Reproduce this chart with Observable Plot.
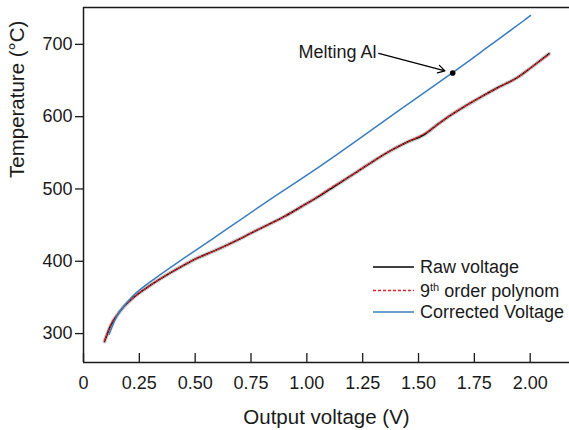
<!DOCTYPE html>
<html>
<head>
<meta charset="utf-8">
<script src="https://cdn.jsdelivr.net/npm/d3@7"></script>
<script src="https://cdn.jsdelivr.net/npm/@observablehq/plot@0.6"></script>
<style>
  html, body { margin: 0; padding: 0; background: #fff; }
  #wrap { position: relative; width: 569px; height: 430px; font-family: "Liberation Sans", Arial, sans-serif; }
  #wrap svg { position: absolute; left: 0; top: 0; }
</style>
</head>
<body>
<div id="wrap"></div>
<script>
// ---- data ----
const rawX = [0.094, 0.12, 0.166, 0.224, 0.30, 0.434, 0.50, 0.583, 0.70, 0.75, 0.90, 1.00, 1.061, 1.10, 1.196, 1.30, 1.375, 1.45, 1.524, 1.58, 1.629, 1.70, 1.778, 1.86, 1.942, 2.00, 2.084];
const rawY = [289, 310, 332, 350, 367, 392, 403, 414, 431, 439, 462, 480, 491, 499, 518, 539, 553, 565, 575, 588, 599, 613, 627, 641, 654, 667, 687];
const polyX = [0.094, 0.12, 0.166, 0.224, 0.30, 0.434, 0.50, 0.583, 0.70, 0.75, 0.90, 1.00, 1.061, 1.10, 1.196, 1.30, 1.375, 1.45, 1.524, 1.58, 1.629, 1.70, 1.778, 1.86, 1.942, 2.00, 2.084];
const polyY = [290, 311, 332, 350, 367, 392, 403, 414, 431, 439, 462, 480, 492, 500, 518, 539, 553, 565, 576, 588, 599, 613, 627, 641, 654, 667, 686];
const corrX = [0.115, 0.14, 0.166, 0.224, 0.30, 0.434, 0.583, 0.80, 1.00, 1.196, 1.40, 1.653, 1.80, 1.972, 1.997];
const corrY = [299, 318, 332, 353, 372, 401, 432, 478, 519, 561, 606, 661, 694, 733, 739];
const seriesNames = ["Raw voltage", "9th order polynom", "Corrected Voltage"];
const seriesColors = ["#000000", "#e0232b", "#3a7dbf"];
const xTicks = [0, 0.25, 0.5, 0.75, 1.0, 1.25, 1.5, 1.75, 2.0];
const xTickLabels = ["0", "0.25", "0.50", "0.75", "1.00", "1.25", "1.50", "1.75", "2.00"];
const yTicks = [300, 400, 500, 600, 700];
const xDomain = [0, 2.176];
const yDomain = [260, 751];
const meltX = [1.653], meltY = [660.5], meltLabel = ["Melting Al"];
const arrowFromX = [1.322], arrowFromY = [687.5];
const labelX = [1.137], labelY = [689];

const raw = rawX.map((x, i) => ({x, y: rawY[i]}));
const poly = polyX.map((x, i) => ({x, y: polyY[i]}));
const corr = corrX.map((x, i) => ({x, y: corrY[i]}));
const melt = meltX.map((x, i) => ({x, y: meltY[i], label: meltLabel[i], x1: arrowFromX[i], y1: arrowFromY[i], lx: labelX[i], ly: labelY[i]}));

const ink = "#1a1a1a";
const font = "Liberation Sans, Arial, sans-serif";

const chart = Plot.plot({
  width: 569,
  height: 430,
  marginLeft: 83,
  marginRight: 0,
  marginTop: 7,
  marginBottom: 68,
  style: {fontFamily: font, background: "transparent", color: ink},
  x: {domain: xDomain},
  y: {domain: yDomain},
  marks: [
    Plot.ruleY([yDomain[1]], {stroke: ink, strokeWidth: 1.5}),
    Plot.ruleY([yDomain[0]], {stroke: ink, strokeWidth: 1.5}),
    Plot.ruleX([xDomain[0]], {stroke: ink, strokeWidth: 1.5}),
    Plot.axisY({ticks: yTicks, tickSize: 8, tickPadding: 3, fontSize: 18, label: null, stroke: ink, strokeWidth: 1.3, color: ink}),
    Plot.axisX({ticks: xTicks, tickSize: 9, dy: -9, tickFormat: () => "", label: null, stroke: ink, strokeWidth: 1.3}),
    Plot.axisX({ticks: xTicks, tickSize: 0, tickPadding: 14, fontSize: 18, tickFormat: (d) => xTickLabels[xTicks.indexOf(d)], label: null, color: ink}),
    Plot.text(["Output voltage (V)"], {frameAnchor: "bottom", dy: 61, fontSize: 20.5, fill: ink}),
    Plot.text(["Temperature (°C)"], {frameAnchor: "left", rotate: -90, dx: -66, dy: -7, fontSize: 20.5, fill: ink}),
    Plot.line(raw, {x: "x", y: "y", stroke: "#bdbdbd", strokeWidth: 4, strokeOpacity: 0.8, curve: "monotone-x"}),
    Plot.line(raw, {x: "x", y: "y", stroke: seriesColors[0], strokeWidth: 1.5, curve: "monotone-x"}),
    Plot.line(poly, {x: "x", y: "y", stroke: seriesColors[1], strokeWidth: 1.3, strokeDasharray: "3,2", curve: "monotone-x"}),
    Plot.line(corr, {x: "x", y: "y", stroke: seriesColors[2], strokeWidth: 1.5, curve: "natural"}),
    Plot.dot(melt, {x: "x", y: "y", r: 2.8, fill: "#000"}),
    Plot.arrow(melt, {x1: "x1", y1: "y1", x2: "x", y2: "y", insetEnd: 8, stroke: "#000", strokeWidth: 1.3, headLength: 9}),
    Plot.text(melt, {x: "lx", y: "ly", text: "label", fontSize: 18, fill: ink})
  ]
});
const wrap = document.getElementById("wrap");
wrap.appendChild(chart);

// legend overlay
const leg = d3.select(wrap).append("svg")
  .attr("width", 569).attr("height", 430)
  .style("pointer-events", "none")
  .attr("font-family", font);
const rowsY = [267, 290.5, 312];
const dashes = [null, "3,2", null];
seriesNames.forEach((name, i) => {
  const g = leg.append("g").attr("transform", `translate(0,${rowsY[i]})`);
  g.append("line").attr("x1", 373).attr("x2", 414).attr("y1", 0).attr("y2", 0)
    .attr("stroke", seriesColors[i]).attr("stroke-width", i === 1 ? 1.3 : 1.5)
    .attr("stroke-dasharray", dashes[i]);
  const t = g.append("text").attr("x", 420).attr("y", 0).attr("dy", "0.36em")
    .attr("font-size", 18).attr("fill", ink);
  if (i === 1) {
    t.append("tspan").text("9");
    t.append("tspan").attr("font-size", 11).attr("baseline-shift", "super").text("th");
    t.append("tspan").text(" order polynom");
  } else {
    t.text(name);
  }
});
</script>
</body>
</html>
